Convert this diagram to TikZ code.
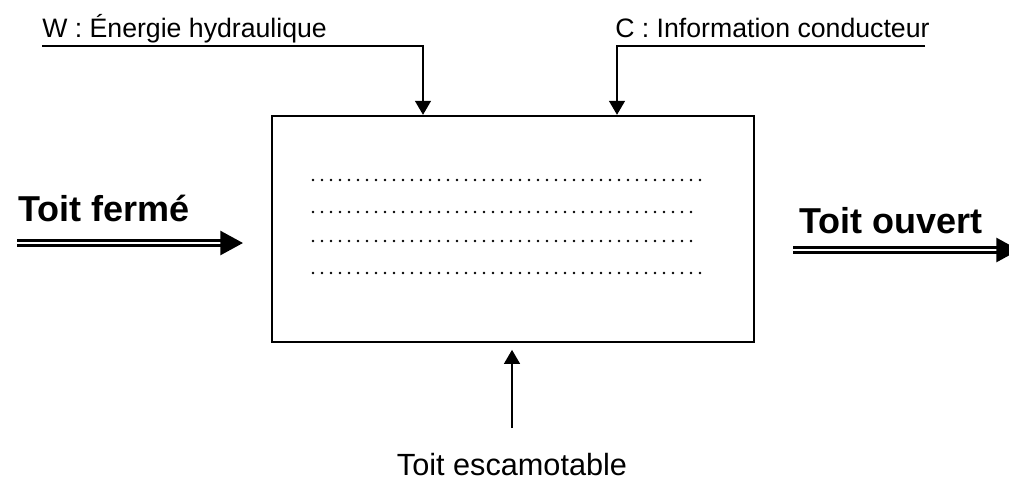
\documentclass[tikz,border=0pt]{standalone}
\usepackage{fontspec}
\setmainfont{Liberation Sans}
\usetikzlibrary{arrows.meta}

\tikzset{
	fleche/.style={line width=1pt,-{Triangle[length=10.5pt,width=12pt]}},
	flux/.style={double,double distance=2pt,line width=2pt,-{Triangle[length=17pt,width=18pt]}},
	pointilles/.style={line width=2pt,line cap=round,dash pattern=on 0pt off 6.75pt},
	lab/.style={inner sep=0pt,anchor=base west},
}

\begin{document}
\begin{tikzpicture}[x=0.75pt,y=-0.75pt]

	\useasboundingbox (0,0) rectangle (1009,480);

	\node[draw,line width=1.8pt,inner sep=0pt,minimum width=361.5pt,minimum height=169.5pt] (box) at (513,229) {};

	\node[lab,font=\fontsize{20}{24}\selectfont] (wlab) at (42,37) {W : Énergie hydraulique};
	\node[lab,font=\fontsize{20}{24}\selectfont] (clab) at (615,37) {C : Information conducteur};
	\node[lab,font=\fontsize{27}{32}\selectfont\bfseries] (ferme) at (18,221) {Toit fermé};
	\node[lab,font=\fontsize{27}{32}\selectfont\bfseries] (ouvert) at (799,233) {Toit ouvert};
	\node[inner sep=0pt,anchor=base,font=\fontsize{23}{28}\selectfont] (toit) at (512,475) {Toit escamotable};

	\coordinate (wa) at (42,46);
	\coordinate (wb) at (423,46);
	\coordinate (ca) at (925,46);
	\coordinate (cb) at (617,46);
	\coordinate (e) at (512,428);
	\draw[fleche] (wa) -- (wb) -- (wb |- box.north);
	\draw[fleche] (ca) -- (cb) -- (cb |- box.north);
	\draw[fleche] (e) -- ([yshift=-5pt]e |- box.south);

	\coordinate (f0) at (17,243);
	\coordinate (f1) at (243,243);
	\coordinate (o0) at (793,250);
	\coordinate (o1) at (1019,250);
	\draw[flux] (f0) -- (f1);
	\draw[flux] (o0) -- (o1);

	\foreach \y/\l in {180/707,212/697,241/697,273/707}
		\draw[pointilles] (313,\y) -- (\l,\y);

\end{tikzpicture}
\end{document}
